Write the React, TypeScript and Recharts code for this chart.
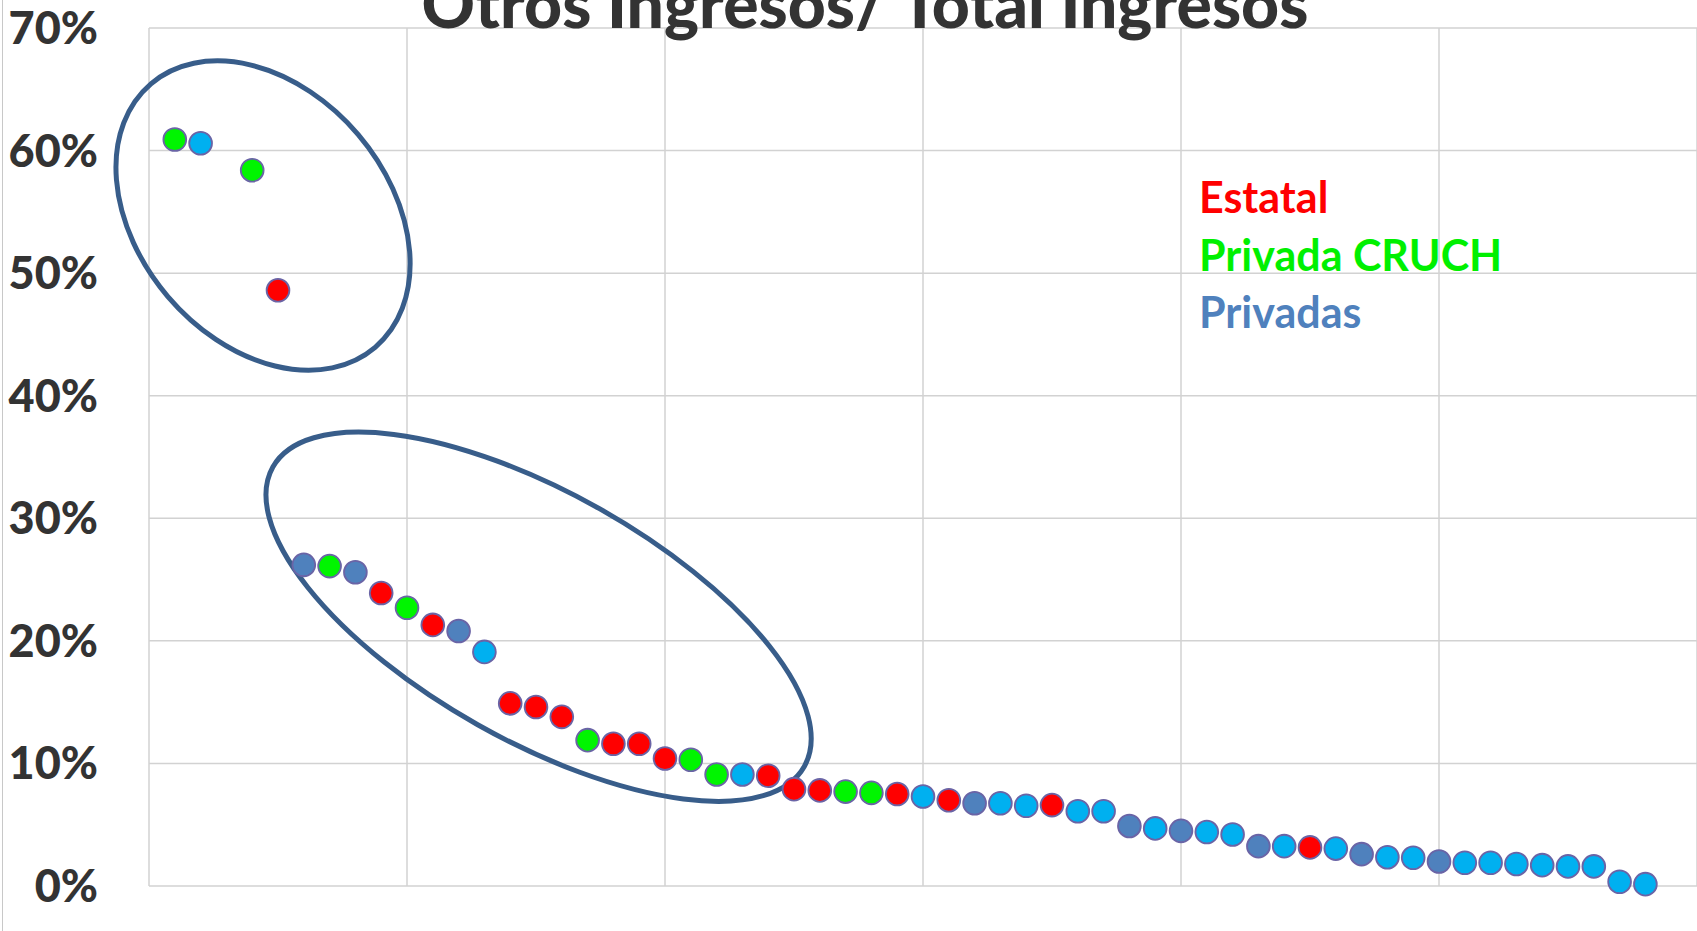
import React from "react"
import { ScatterChart, Scatter, XAxis, YAxis, CartesianGrid, Customized } from "recharts"

// posición de cada institución en el ranking (eje X) y su % de otros ingresos
const posiciones = [
  1, 2, 4, 5, 6, 7, 8, 9, 10, 11, 12, 13, 14, 15, 16, 17, 18, 19, 20, 21, 22, 23, 24, 25, 26, 27, 28, 29, 30,
  31, 32, 33, 34, 35, 36, 37, 38, 39, 40, 41, 42, 43, 44, 45, 46, 47, 48, 49, 50, 51, 52, 53, 54, 55, 56, 57, 58,
]
const valores = [
  60.9, 60.6, 58.4, 48.6, 26.2, 26.1, 25.6, 23.9, 22.7, 21.3, 20.8, 19.1, 14.9, 14.6, 13.8, 11.9, 11.6, 11.6,
  10.4, 10.3, 9.1, 9.1, 9.0, 7.9, 7.8, 7.7, 7.6, 7.5, 7.3, 7.0, 6.75, 6.75, 6.55, 6.6, 6.1, 6.1, 4.9, 4.7, 4.5,
  4.4, 4.2, 3.25, 3.25, 3.15, 3.05, 2.6, 2.35, 2.3, 2.0, 1.9, 1.9, 1.8, 1.7, 1.6, 1.6, 0.35, 0.15,
]
// E = Estatal, C = Privada CRUCH, P = Privadas, K = otras privadas (celeste)
const tipos = [
  "C", "K", "C", "E", "P", "C", "P", "E", "C", "E", "P", "K", "E", "E", "E", "C", "E", "E", "E", "C", "C", "K",
  "E", "E", "E", "C", "C", "E", "K", "E", "P", "K", "K", "E", "K", "K", "P", "K", "P", "K", "K", "P", "K", "E",
  "K", "P", "K", "K", "P", "K", "K", "K", "K", "K", "K", "K", "K",
]

const yTicks = [0, 10, 20, 30, 40, 50, 60, 70]
const xTicks = [0, 10, 20, 30, 40, 50, 60]

const titulo = "Otros Ingresos/ Total Ingresos"
const leyenda = [
  { texto: "Estatal", color: "#ff0000" },
  { texto: "Privada CRUCH", color: "#00f000" },
  { texto: "Privadas", color: "#4f81bd" },
]

const colores: Record<string, string> = {
  E: "#ff0000",
  C: "#00f500",
  P: "#4f81bd",
  K: "#00b0f0",
}

const W = 1697
const H = 931
const M_TOP = 28
const X_AXIS_H = 45
const Y_AXIS_W = 149

// helpers for the overlay (same geometry as the chart)
const px = (x: number) => Y_AXIS_W + (x / 60) * (W - Y_AXIS_W)
const py = (y: number) => M_TOP + (1 - y / 70) * (H - M_TOP - X_AXIS_H)

// óvalos de anotación: centro en unidades de datos, radios en px
const ovalos = [
  { cx: 4.42, cy: 54.7, rx: 173, ry: 125, rot: 49.6 },
  { cx: 15.1, cy: 21.97, rx: 305, ry: 124, rot: 29.4 },
]

const data = posiciones.map((x, i) => ({ x, y: valores[i], tipo: tipos[i] }))

const Marker = (props: any) => {
  const { cx, cy, payload } = props
  if (cx == null || cy == null) return null
  return <circle cx={cx} cy={cy} r={11.4} fill={colores[payload.tipo]} stroke="#6a64a6" strokeWidth={1.8} />
}

const Overlay = () => (
  <g>
    <line x1={2.5} x2={2.5} y1={0} y2={H} stroke="#c8c8c8" strokeWidth={1} />
    <text
      x={865}
      y={28}
      textAnchor="middle"
      fontFamily="Lato"
      fontWeight={900}
      fontSize={66}
      fill="#333333"
    >
      {titulo}
    </text>
    {leyenda.map((l, i) => (
      <text key={l.texto} x={1199} y={213 + i * 57.5} fontFamily="Lato" fontWeight="bold" fontSize={43} fill={l.color}>
        {l.texto}
      </text>
    ))}
    {ovalos.map((o, i) => {
      const cx = px(o.cx)
      const cy = py(o.cy)
      return (
        <ellipse
          key={i}
          cx={cx}
          cy={cy}
          rx={o.rx}
          ry={o.ry}
          transform={`rotate(${o.rot} ${cx} ${cy})`}
          fill="none"
          stroke="#385d8a"
          strokeWidth={5}
        />
      )
    })}
  </g>
)

export default function App() {
  return (
    <div style={{ position: "absolute", left: 0, top: 0, width: W, height: H, background: "#fff" }}>
      <ScatterChart width={W} height={H} margin={{ top: M_TOP, right: 0, bottom: 0, left: 0 }}>
        <CartesianGrid stroke="#d2d2d2" strokeWidth={1.5} verticalPoints={xTicks.map(px)} />
        <XAxis
          type="number"
          dataKey="x"
          domain={[0, 60]}
          ticks={xTicks}
          tick={false}
          axisLine={false}
          tickLine={false}
          height={X_AXIS_H}
        />
        <YAxis
          type="number"
          dataKey="y"
          domain={[0, 70]}
          ticks={yTicks}
          interval={0}
          width={Y_AXIS_W}
          tickSize={0}
          tickMargin={51}
          axisLine={false}
          tickLine={false}
          tickFormatter={(v: number) => `${v}%`}
          tick={{ fontFamily: "Lato", fontWeight: 900, fontSize: 45, fill: "#333333" }}
        />
        <Scatter data={data} isAnimationActive={false} shape={Marker} />
        <Customized component={Overlay} />
      </ScatterChart>
    </div>
  )
}
